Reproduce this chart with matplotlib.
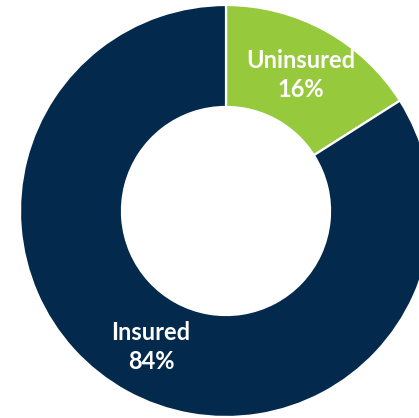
import numpy as np
import matplotlib.pyplot as plt

labels = ['Uninsured', 'Insured']
shares = [16, 84]
colors = ['#97c93d', '#03294d']

W, H = 419, 418
cx, cy, r_px = 226, 211, 206  # donut centre / outer radius in pixels

fig = plt.figure(figsize=(W / 100, H / 100), dpi=100)
ax = fig.add_axes([0, 0, 1, 1])

wedges, _ = ax.pie(shares, colors=colors, startangle=90, counterclock=False,
                   radius=1, wedgeprops=dict(width=0.495, edgecolor='white', linewidth=1.6))

for w, lab, s in zip(wedges, labels, shares):
    ang = np.deg2rad((w.theta1 + w.theta2) / 2)
    ax.text(0.755 * np.cos(ang), 0.755 * np.sin(ang), '{}\n{}%'.format(lab, s),
            ha='center', va='center', color='white', fontsize=17,
            fontweight='bold', family=['Lato', 'DejaVu Sans'], linespacing=1.3)

ax.set_xlim(-cx / r_px, (W - cx) / r_px)
ax.set_ylim(-(H - cy) / r_px, cy / r_px)
ax.axis('off')

plt.savefig('out.png', dpi=100)
